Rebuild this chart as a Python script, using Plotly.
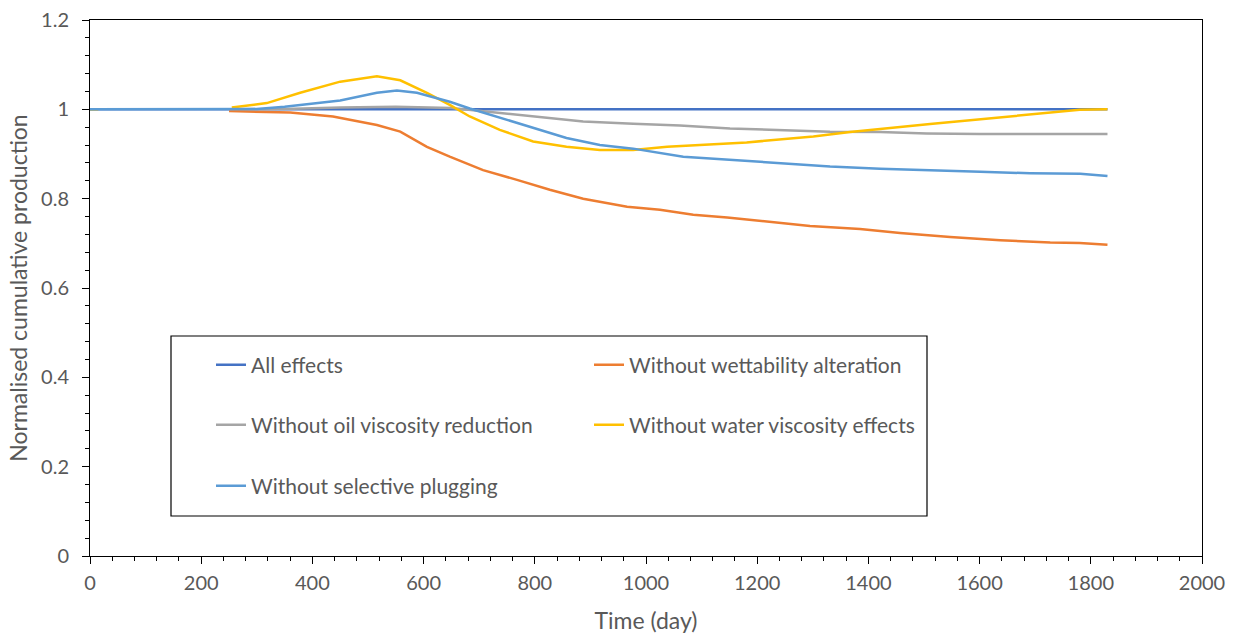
import plotly.graph_objects as go

# ---- data ----
all_x = [0, 300, 600, 900, 1200, 1500, 1830]
all_y = [1.0, 1.0, 1.0, 1.0, 1.0, 1.0, 1.0]

wett_x = [250, 300, 360, 437, 516, 558, 606, 647, 707, 768, 827, 887, 966, 1025,
          1085, 1146, 1205, 1295, 1385, 1457, 1547, 1637, 1727, 1780, 1830]
wett_y = [0.996, 0.995, 0.993, 0.984, 0.965, 0.950, 0.916, 0.894, 0.864, 0.842, 0.820,
          0.800, 0.782, 0.775, 0.764, 0.758, 0.750, 0.739, 0.732, 0.723, 0.714, 0.707,
          0.702, 0.701, 0.697]

oil_x = [250, 350, 450, 550, 650, 737, 797, 887, 977, 1061, 1151, 1241, 1331, 1421,
         1505, 1600, 1700, 1830]
oil_y = [1.0, 1.001, 1.004, 1.006, 1.003, 0.992, 0.983, 0.973, 0.968, 0.964, 0.957,
         0.953, 0.950, 0.949, 0.946, 0.945, 0.945, 0.945]

water_x = [0, 15, None, 255, 318, 378, 450, 516, 558, 606, 647, 683, 737, 797, 857,
           917, 977, 1038, 1097, 1181, 1301, 1367, 1511, 1600, 1700, 1780, 1830]
water_y = [1.0, 1.0, None, 1.004, 1.014, 1.037, 1.062, 1.074, 1.065, 1.037, 1.010,
           0.984, 0.954, 0.928, 0.916, 0.909, 0.909, 0.916, 0.920, 0.926, 0.939, 0.949,
           0.967, 0.978, 0.990, 0.999, 1.0]

plug_x = [0, 100, 200, 250, 300, 350, 378, 450, 516, 552, 588, 647, 683, 737, 797,
          857, 917, 977, 1067, 1151, 1241, 1331, 1421, 1511, 1601, 1691, 1781, 1830]
plug_y = [1.0, 1.0, 1.0, 1.0, 1.001, 1.006, 1.010, 1.020, 1.037, 1.042, 1.037, 1.017,
          1.002, 0.981, 0.959, 0.936, 0.920, 0.912, 0.894, 0.887, 0.880, 0.872, 0.867,
          0.863, 0.860, 0.857, 0.856, 0.851]

names = ["All effects", "Without wettability alteration", "Without oil viscosity reduction",
         "Without water viscosity effects", "Without selective plugging"]
colors = ["#4472C4", "#ED7D31", "#A5A5A5", "#FFC000", "#5B9BD5"]

FONT = "Lato"
TXT = "#595959"

series = [(all_x, all_y), (wett_x, wett_y), (oil_x, oil_y), (water_x, water_y), (plug_x, plug_y)]
legend_ids = ["legend", "legend2", "legend3", "legend4", "legend5"]

fig = go.Figure()
for (xs, ys), nm, col, lg in zip(series, names, colors, legend_ids):
    fig.add_trace(go.Scatter(x=xs, y=ys, mode="lines", name=nm, legend=lg,
                             line=dict(color=col, width=2.5), connectgaps=False))

# legend placement (paper coords; plot area is 90..1202 px wide, 20..556 px tall)
def px_x(p):
    return (p - 90) / 1112.0

def px_y(p):
    return (556 - p) / 536.0

col1 = px_x(211)
col2 = px_x(589)
rows = [px_y(365), px_y(425), px_y(486)]
leg_pos = [(col1, rows[0]), (col2, rows[0]), (col1, rows[1]), (col2, rows[1]), (col1, rows[2])]

leg_common = dict(xanchor="left", yanchor="middle", bgcolor="rgba(0,0,0,0)", borderwidth=0,
                  font=dict(family=FONT, size=21, color=TXT))
layout_legends = {}
for lg, (lx, ly) in zip(legend_ids, leg_pos):
    layout_legends[lg] = dict(x=lx, y=ly, **leg_common)

tickfont = dict(family=FONT, size=20, color=TXT)
titlefont = dict(family=FONT, size=23, color=TXT)

fig.update_layout(
    width=1237, height=635,
    margin=dict(l=90, r=35, t=20, b=79),
    paper_bgcolor="white", plot_bgcolor="white",
    showlegend=True,
    **layout_legends,
    xaxis=dict(range=[0, 2000], tick0=0, dtick=200, ticks="outside", ticklen=7,
               tickwidth=1, tickcolor="black", showline=True, linecolor="black",
               linewidth=1, mirror=True, showgrid=False, zeroline=False,
               minor=dict(dtick=40, ticks="outside", ticklen=4, tickcolor="black",
                          tickwidth=1, showgrid=False),
               tickfont=tickfont, ticklabelstandoff=2, automargin=False,
               title=dict(text="Time (day)", font=titlefont, standoff=19)),
    yaxis=dict(range=[0, 1.2], tick0=0, dtick=0.2, ticks="outside", ticklen=7,
               tickwidth=1, tickcolor="black", showline=True, linecolor="black",
               linewidth=1, mirror=True, showgrid=False, zeroline=False,
               minor=dict(dtick=0.04, ticks="outside", ticklen=4, tickcolor="black",
                          tickwidth=1, showgrid=False),
               tickfont=tickfont, ticklabelstandoff=9, automargin=False,
               title=dict(text="Normalised cumulative production", font=titlefont,
                          standoff=7)),
    xaxis2=dict(overlaying="x", anchor="y", side="bottom", range=[0, 2000], tick0=0,
                dtick=200, ticks="inside", ticklen=7, tickwidth=1, tickcolor="black",
                showticklabels=False, showline=False, showgrid=False, zeroline=False,
                minor=dict(dtick=40, ticks="inside", ticklen=4, tickcolor="black",
                           tickwidth=1, showgrid=False)),
    yaxis2=dict(overlaying="y", anchor="x", side="left", range=[0, 1.2], tick0=0,
                dtick=0.2, ticks="inside", ticklen=7, tickwidth=1, tickcolor="black",
                showticklabels=False, showline=False, showgrid=False, zeroline=False,
                minor=dict(dtick=0.04, ticks="inside", ticklen=4, tickcolor="black",
                           tickwidth=1, showgrid=False)),
    shapes=[dict(type="rect", xref="paper", yref="paper",
                 x0=px_x(171), x1=px_x(927), y0=px_y(516), y1=px_y(336),
                 line=dict(color="black", width=1.2), fillcolor="rgba(0,0,0,0)",
                 layer="above")],
)

fig.write_html("out.html",
               config={"displayModeBar": False},
               post_script="document.body.style.margin='0';document.body.style.overflow='hidden';")
